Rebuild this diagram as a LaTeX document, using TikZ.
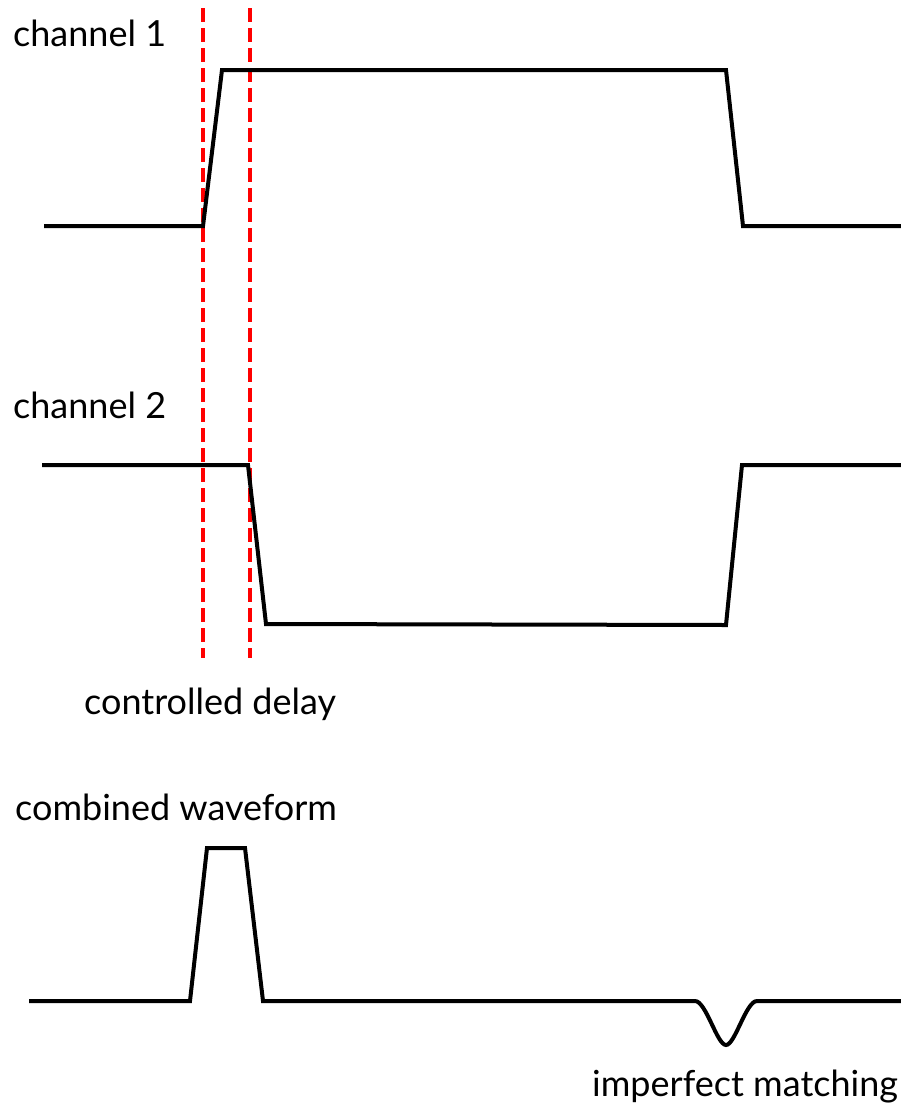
\documentclass[tikz,border=0pt]{standalone}
\usepackage{fontspec}
\setmainfont{Lato}
\begin{document}
\begin{tikzpicture}[x=1pt,y=-1pt,
  wave/.style={line width=4pt, line join=miter, black},
  delayline/.style={line width=4pt, red, dash pattern=on 14pt off 6pt},
  lbl/.style={font=\fontsize{36}{40}\selectfont, inner sep=0pt, anchor=base west}]
\useasboundingbox (0,0) rectangle (901,1109);
% labels
\node[lbl] (t1) at (13,46) {channel 1};
\node[lbl] (t2) at (13,418) {channel 2};
\node[lbl] (t3) at (84,714) {controlled delay};
\node[lbl] (t4) at (15,820) {combined waveform};
\node[lbl] (t5) at (592,1096) {imperfect matching};
% delay markers
\draw[delayline] (203,8) -- (203,658);
\draw[delayline] (250,8) -- (250,658);
% channel 1
\draw[wave] (44,226) -- (203,226) -- (222,70) -- (726,70) -- (743,226) -- (901,226);
% channel 2
\draw[wave] (42,465) -- (248,465) -- (266,624) -- (726,625) -- (742,465) -- (901,465);
% combined
\draw[wave] (29,1001) -- (190,1001) -- (207,848) -- (245,848) -- (263,1001) -- (695,1001)
  .. controls (706,1001) and (717,1045) .. (726,1045)
  .. controls (735,1045) and (746,1001) .. (757,1001) -- (901,1001);
\end{tikzpicture}
\end{document}
